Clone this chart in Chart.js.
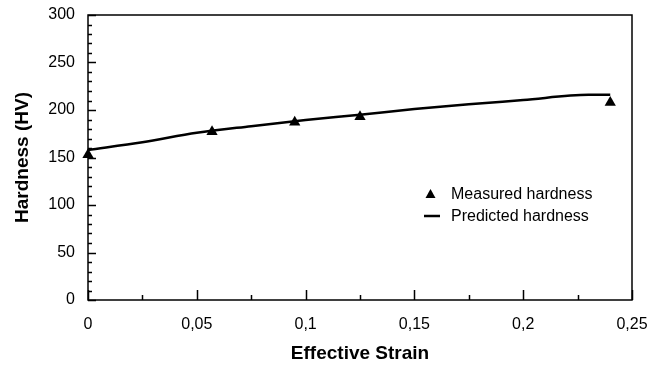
<!DOCTYPE html>
<html>
<head>
<meta charset="utf-8">
<script src="https://cdn.jsdelivr.net/npm/chart.js@4/dist/chart.umd.min.js"></script>
<style>
  html, body { margin: 0; padding: 0; background: #fff; }
  #wrap { width: 660px; height: 368px; }
</style>
</head>
<body>
<div id="wrap"><canvas id="myChart" width="660" height="368"></canvas></div>
<script>
// predicted hardness curve
const strainPred = [0, 0.025, 0.05, 0.075, 0.1, 0.125, 0.15, 0.175, 0.2, 0.23, 0.24];
const hardPred = [158, 166, 176, 183, 189.5, 195, 201, 206, 210.5, 216, 216];

// measured hardness points
const strainMeas = [0, 0.057, 0.095, 0.125, 0.24];
const hardMeas = [153, 177, 187, 193, 208];

const xTicks = [0, 0.05, 0.1, 0.15, 0.2, 0.25];
const xLabels = ['0', '0,05', '0,1', '0,15', '0,2', '0,25'];
const yTicks = [0, 50, 100, 150, 200, 250, 300];

const fontFam = '"Liberation Sans", Arial, sans-serif';

const toPoints = (xs, ys) => xs.map((x, i) => ({ x: x, y: ys[i] }));

// frame, inward ticks and legend drawn on top of the data
const framePlugin = {
    id: 'frame',
    afterDatasetsDraw(chart) {
        const ctx = chart.ctx;
        const a = chart.chartArea;
        const xs = chart.scales.x;
        const ys = chart.scales.y;
        ctx.save();
        ctx.strokeStyle = '#000';
        ctx.lineWidth = 1.5;
        ctx.strokeRect(a.left, a.top, a.right - a.left, a.bottom - a.top);

        ctx.beginPath();
        for (let v = ys.min; v <= ys.max; v += 10) {
            const y = Math.round(ys.getPixelForValue(v)) + 0.5;
            const len = (v % 50 === 0) ? 8 : 4;
            ctx.moveTo(a.left, y);
            ctx.lineTo(a.left + len, y);
        }
        for (let i = 0; i <= 10; i++) {
            const v = i * 0.025;
            const x = Math.round(xs.getPixelForValue(v)) + 0.5;
            const len = (i % 2 === 0) ? 10 : 5;
            ctx.moveTo(x, a.bottom);
            ctx.lineTo(x, a.bottom - len);
        }
        ctx.stroke();

        // legend
        const meas = chart.data.datasets[0];
        const pred = chart.data.datasets[1];
        ctx.fillStyle = '#000';
        ctx.beginPath();
        ctx.moveTo(430.5, 189);
        ctx.lineTo(435.5, 198);
        ctx.lineTo(425.5, 198);
        ctx.closePath();
        ctx.fill();
        ctx.lineWidth = 2.5;
        ctx.beginPath();
        ctx.moveTo(424, 216);
        ctx.lineTo(440, 216);
        ctx.stroke();
        ctx.font = '16px ' + fontFam;
        ctx.textBaseline = 'middle';
        ctx.fillText(meas.label, 451, 195);
        ctx.fillText(pred.label, 451, 217);
        ctx.restore();
    }
};

const config = {
    type: 'scatter',
    data: {
        datasets: [
            {
                label: 'Measured hardness',
                data: toPoints(strainMeas, hardMeas),
                pointStyle: 'triangle',
                pointRadius: 6.5,
                backgroundColor: '#000',
                borderColor: '#000',
                borderWidth: 0,
                clip: false,
                order: 1
            },
            {
                label: 'Predicted hardness',
                data: toPoints(strainPred, hardPred),
                showLine: true,
                pointRadius: 0,
                borderColor: '#000',
                borderWidth: 2.5,
                cubicInterpolationMode: 'monotone',
                order: 2
            }
        ]
    },
    options: {
        responsive: false,
        animation: false,
        layout: { padding: { top: 15, right: 28, left: 0, bottom: 0 } },
        plugins: {
            legend: { display: false },
            tooltip: { enabled: false }
        },
        scales: {
            x: {
                type: 'linear',
                min: 0,
                max: 0.25,
                afterBuildTicks: (scale) => { scale.ticks = xTicks.map(v => ({ value: v })); },
                afterFit: (scale) => {
                    scale.height = 68;
                    scale.paddingLeft = 0;
                    scale.paddingRight = 0;
                },
                grid: { display: false, drawTicks: false },
                border: { display: false },
                ticks: {
                    color: '#000',
                    padding: 15,
                    maxRotation: 0,
                    font: { family: fontFam, size: 16 },
                    callback: (v, i) => xLabels[i]
                },
                title: {
                    display: true,
                    text: 'Effective Strain',
                    color: '#000',
                    padding: { top: 3, bottom: 3 },
                    font: { family: fontFam, size: 19, weight: 'bold' }
                }
            },
            y: {
                min: 0,
                max: 300,
                afterBuildTicks: (scale) => { scale.ticks = yTicks.map(v => ({ value: v })); },
                afterFit: (scale) => {
                    scale.width = 88;
                    scale.paddingTop = 0;
                    scale.paddingBottom = 0;
                },
                grid: { display: false, drawTicks: false },
                border: { display: false },
                ticks: {
                    color: '#000',
                    padding: 13,
                    font: { family: fontFam, size: 16 }
                },
                title: {
                    display: true,
                    text: 'Hardness (HV)',
                    color: '#000',
                    padding: { top: 11, bottom: 11 },
                    font: { family: fontFam, size: 19, weight: 'bold' }
                }
            }
        }
    },
    plugins: [framePlugin]
};

const chartDOM = document.getElementById('myChart');
const myChart = new Chart(chartDOM, config);
</script>
</body>
</html>
